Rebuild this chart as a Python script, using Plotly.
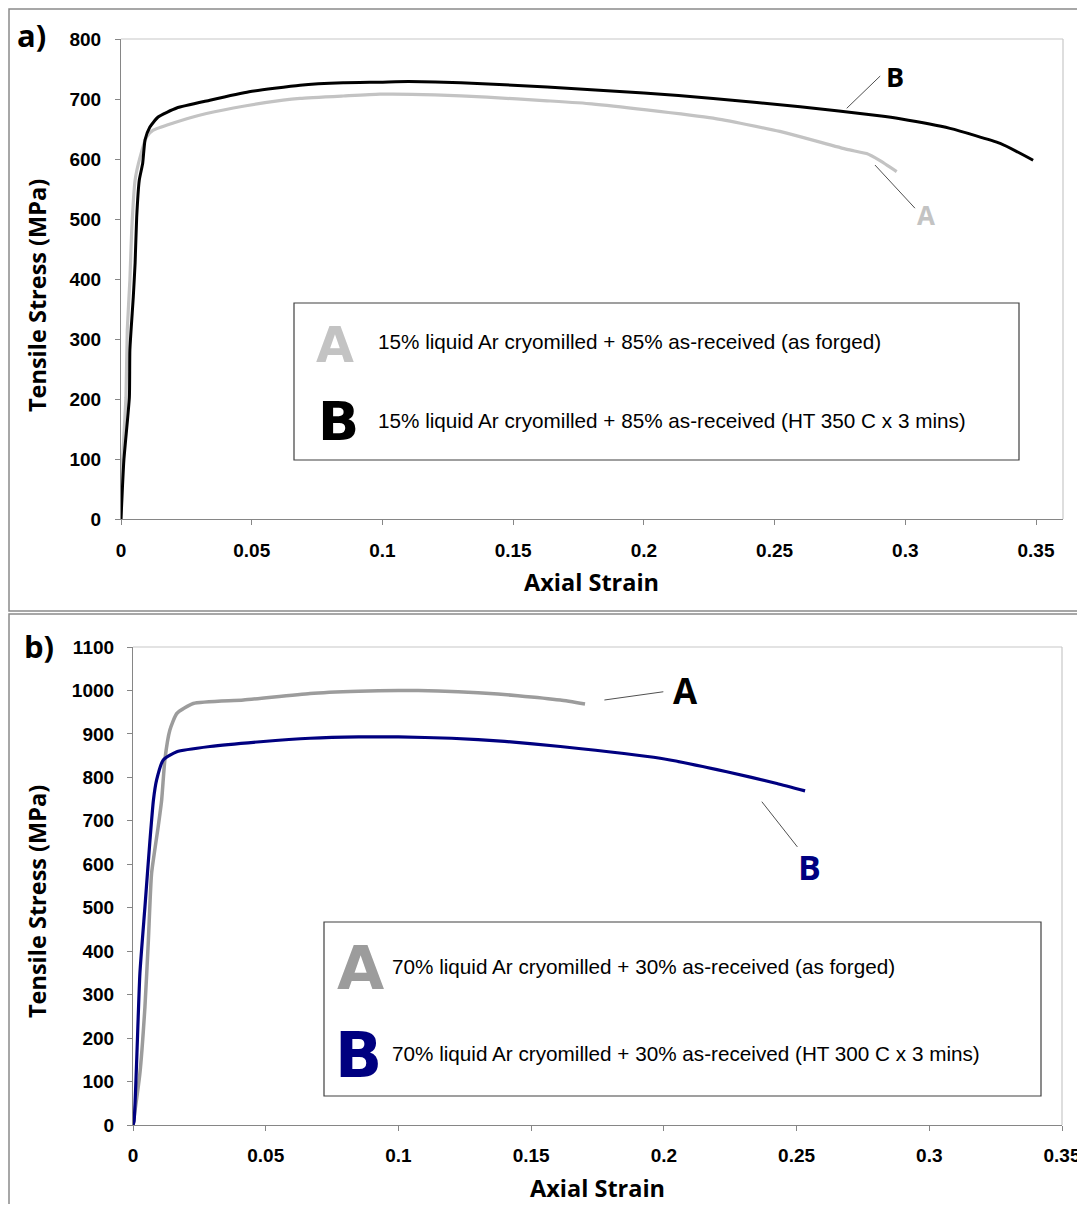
import plotly.graph_objects as go

# page body margin (8 px) is compensated: the figure covers reference pixels 8..1085 / 8..1204
OFF = 8
W, H = 1085 - OFF, 1212 - 2 * OFF

# ---------------- data: panel a ----------------
a_strain_A = [0, 0.0006, 0.0019, 0.0024, 0.0034, 0.0041, 0.0054, 0.0073, 0.0098, 0.0123, 0.02, 0.030,
              0.043, 0.062, 0.0685, 0.085, 0.099, 0.12, 0.14, 0.163, 0.18, 0.201, 0.2265, 0.252,
              0.2777, 0.2852, 0.290, 0.2967]
a_stress_A = [0, 98, 203, 315, 398, 482, 565, 603, 637, 648, 660, 673,
              685, 698, 701, 705, 708, 707, 703, 697, 692, 682, 668, 646,
              616, 609, 598, 579]

a_strain_B = [0, 0.0011, 0.0032, 0.0034, 0.0047, 0.0054, 0.006, 0.007, 0.0083, 0.0092, 0.011, 0.0142,
              0.0213, 0.034, 0.049, 0.0685, 0.085, 0.099, 0.11, 0.13, 0.163, 0.2, 0.2265, 0.2598,
              0.290, 0.298, 0.3171, 0.3363, 0.3489]
a_stress_B = [0, 98, 203, 282, 370, 427, 503, 565, 593, 632, 653, 670,
              685, 698, 712, 723, 727, 728, 729, 727, 720, 710, 701, 687,
              672, 667, 651, 626, 598]

a_x_ticks = [0, 0.05, 0.1, 0.15, 0.2, 0.25, 0.3, 0.35]
a_x_ticktext = ["0", "0.05", "0.1", "0.15", "0.2", "0.25", "0.3", "0.35"]
a_y_ticks = [0, 100, 200, 300, 400, 500, 600, 700, 800]

a_label_A = "15% liquid Ar cryomilled + 85% as-received (as forged)"
a_label_B = "15% liquid Ar cryomilled + 85% as-received (HT 350 C x 3 mins)"

# ---------------- data: panel b ----------------
b_strain_A = [0, 0.0026, 0.0045, 0.0058, 0.007, 0.0095, 0.0108, 0.012, 0.0139, 0.0165, 0.0227,
              0.0416, 0.0667, 0.085, 0.1, 0.115, 0.13, 0.145, 0.161, 0.1703]
b_stress_A = [0, 119, 272, 426, 579, 687, 748, 840, 909, 947, 970,
              978, 993, 998, 1000, 999, 995, 988, 978, 969]

b_strain_B = [0, 0.0004, 0.0026, 0.0045, 0.0064, 0.0077, 0.0089, 0.0114, 0.0165, 0.029, 0.048,
              0.0667, 0.085, 0.1, 0.12, 0.14, 0.161, 0.1986, 0.2237, 0.2426, 0.2532]
b_stress_B = [0, 8, 349, 502, 656, 748, 794, 840, 859, 871, 882,
              890, 893, 893, 890, 883, 871, 844, 813, 786, 769]

b_x_ticks = [0, 0.05, 0.1, 0.15, 0.2, 0.25, 0.3, 0.35]
b_x_ticktext = ["0", "0.05", "0.1", "0.15", "0.2", "0.25", "0.3", "0.35"]
b_y_ticks = [0, 100, 200, 300, 400, 500, 600, 700, 800, 900, 1000, 1100]

b_label_A = "70% liquid Ar cryomilled + 30% as-received (as forged)"
b_label_B = "70% liquid Ar cryomilled + 30% as-received (HT 300 C x 3 mins)"

x_title = "Axial Strain"
y_title = "Tensile Stress (MPa)"

# ---------------- styles ----------------
A_GRAY_A = "#c3c3c3"
B_BLACK = "#000000"
A_GRAY_B = "#9c9c9c"
B_NAVY = "#000080"
AXIS_C = "#868686"
FRAME_C = "#c8c8c8"
TICK_FONT = dict(family="Liberation Sans, Arial", size=19, color="black", weight="bold")


def px(x):
    return (x - OFF) / W


def py(y):
    return 1 - (y - OFF) / H


fig = go.Figure()

SM = 0.5
fig.add_trace(go.Scatter(x=a_strain_A, y=a_stress_A, mode="lines",
                         line=dict(color=A_GRAY_A, width=3.2, shape="spline", smoothing=SM),
                         xaxis="x", yaxis="y", showlegend=False))
fig.add_trace(go.Scatter(x=a_strain_B, y=a_stress_B, mode="lines",
                         line=dict(color=B_BLACK, width=3, shape="spline", smoothing=SM),
                         xaxis="x", yaxis="y", showlegend=False))
fig.add_trace(go.Scatter(x=b_strain_A, y=b_stress_A, mode="lines",
                         line=dict(color=A_GRAY_B, width=3.5, shape="spline", smoothing=SM),
                         xaxis="x2", yaxis="y2", showlegend=False))
fig.add_trace(go.Scatter(x=b_strain_B, y=b_stress_B, mode="lines",
                         line=dict(color=B_NAVY, width=3.2, shape="spline", smoothing=SM),
                         xaxis="x2", yaxis="y2", showlegend=False))

common_axis = dict(showline=True, linecolor=AXIS_C, linewidth=1.2, ticks="outside", ticklen=5,
                   tickcolor=AXIS_C, tickwidth=1.2, showgrid=False, zeroline=False,
                   tickfont=TICK_FONT, fixedrange=True, automargin=False)

fig.update_layout(
    template="none",
    width=W, height=H, margin=dict(l=0, r=0, t=0, b=0, pad=0), autosize=False,
    paper_bgcolor="white", plot_bgcolor="white", showlegend=False,
    xaxis=dict(domain=[px(121), px(1063)], range=[0, 0.35 * (1063 - 121) / (1036 - 121)], anchor="y",
               tickvals=a_x_ticks, ticktext=a_x_ticktext, ticklabelstandoff=9, **common_axis),
    yaxis=dict(domain=[py(519), py(39)], range=[0, 800], anchor="x",
               tickvals=a_y_ticks, ticklabelstandoff=10, **common_axis),
    xaxis2=dict(domain=[px(133), px(1062)], range=[0, 0.35], anchor="y2",
                tickvals=b_x_ticks, ticktext=b_x_ticktext, ticklabelstandoff=8, **common_axis),
    yaxis2=dict(domain=[py(1125), py(647)], range=[0, 1100], anchor="x2",
                tickvals=b_y_ticks, ticklabelstandoff=9, **common_axis),
)

shapes = []
# top/right plot-area borders
for xa, ya in [("x", "y"), ("x2", "y2")]:
    shapes.append(dict(type="line", xref=f"{xa} domain", yref=f"{ya} domain", x0=0, x1=1, y0=1, y1=1,
                       line=dict(color=FRAME_C, width=1.2)))
    shapes.append(dict(type="line", xref=f"{xa} domain", yref=f"{ya} domain", x0=1, x1=1, y0=0, y1=1,
                       line=dict(color=FRAME_C, width=1.2)))
# outer panel frames
shapes.append(dict(type="rect", xref="paper", yref="paper", x0=px(9), x1=px(1095), y0=py(611), y1=py(9),
                   line=dict(color="#8a8a8a", width=1.5)))
shapes.append(dict(type="rect", xref="paper", yref="paper", x0=px(9), x1=px(1095), y0=py(1225), y1=py(614),
                   line=dict(color="#8a8a8a", width=1.5)))
# legend boxes
shapes.append(dict(type="rect", xref="paper", yref="paper", x0=px(294), x1=px(1019), y0=py(460), y1=py(303),
                   line=dict(color="#404040", width=1.2), fillcolor="white", layer="below"))
shapes.append(dict(type="rect", xref="paper", yref="paper", x0=px(324), x1=px(1041), y0=py(1096), y1=py(922),
                   line=dict(color="#404040", width=1.2), fillcolor="white", layer="below"))
# leader lines
LEAD = dict(color="#505050", width=1)
shapes.append(dict(type="line", xref="x", yref="y", x0=0.2776, y0=684.5, x1=0.2904, y1=738.3, line=LEAD))
shapes.append(dict(type="line", xref="x", yref="y", x0=0.2884, y0=590, x1=0.3037, y1=518, line=LEAD))
shapes.append(dict(type="line", xref="x2", yref="y2", x0=0.1776, y0=978, x1=0.1998, y1=997, line=LEAD))
shapes.append(dict(type="line", xref="x2", yref="y2", x0=0.2369, y0=744, x1=0.2503, y1=640, line=LEAD))
fig.update_layout(shapes=shapes)

ann = []
TITLE_FONT = dict(family="Open Sans, Liberation Sans", size=23.5, color="black", weight="bold")


def pann(text, x, y, font, xanchor="center", textangle=0):
    return dict(text=text, x=px(x), y=py(y), xref="paper", yref="paper", xanchor=xanchor,
                yanchor="middle", showarrow=False, font=font, textangle=textangle)


# panel labels
ann.append(pann("a)", 15, 35, dict(family="Open Sans", size=31, color="black", weight="bold"), "left"))
ann.append(pann("b)", 22, 646, dict(family="Open Sans", size=31, color="black", weight="bold"), "left"))
# axis titles
ann.append(pann(x_title, 591, 582, TITLE_FONT))
ann.append(pann(x_title, 597, 1188, TITLE_FONT))
ann.append(pann(y_title, 37, 296, TITLE_FONT, textangle=-90))
ann.append(pann(y_title, 37, 902, TITLE_FONT, textangle=-90))
# curve labels
CL = dict(family="Open Sans", weight="bold")
ann.append(dict(text="B", x=0.2961, y=738, xref="x", yref="y", showarrow=False, xanchor="center",
                yanchor="middle", font=dict(size=27, color=B_BLACK, **CL)))
ann.append(dict(text="A", x=0.3080, y=507, xref="x", yref="y", showarrow=False, xanchor="center",
                yanchor="middle", font=dict(size=26, color=A_GRAY_A, **CL)))
ann.append(dict(text="A", x=0.2080, y=999, xref="x2", yref="y2", showarrow=False, xanchor="center",
                yanchor="middle", font=dict(size=35, color="black", **CL)))
ann.append(dict(text="B", x=0.2547, y=594, xref="x2", yref="y2", showarrow=False, xanchor="center",
                yanchor="middle", font=dict(size=34, color=B_NAVY, **CL)))
# legend contents
BIG = dict(family="DejaVu Sans", weight="bold")
LT = dict(family="Liberation Sans, Arial", size=20.7, color="black")
ann.append(pann("A", 335, 346, dict(size=49, color=A_GRAY_A, **BIG)))
ann.append(pann("B", 338, 421, dict(size=54, color=B_BLACK, **BIG)))
ann.append(pann(a_label_A, 376, 341, LT, "left"))
ann.append(pann(a_label_B, 376, 420, LT, "left"))
ann.append(pann("A", 360, 967, dict(size=61, color=A_GRAY_B, **BIG)))
ann.append(pann("B", 358, 1055, dict(size=62, color=B_NAVY, **BIG)))
ann.append(pann(b_label_A, 390, 966, LT, "left"))
ann.append(pann(b_label_B, 390, 1053, LT, "left"))
fig.update_layout(annotations=ann)

fig.write_html("out.html")
